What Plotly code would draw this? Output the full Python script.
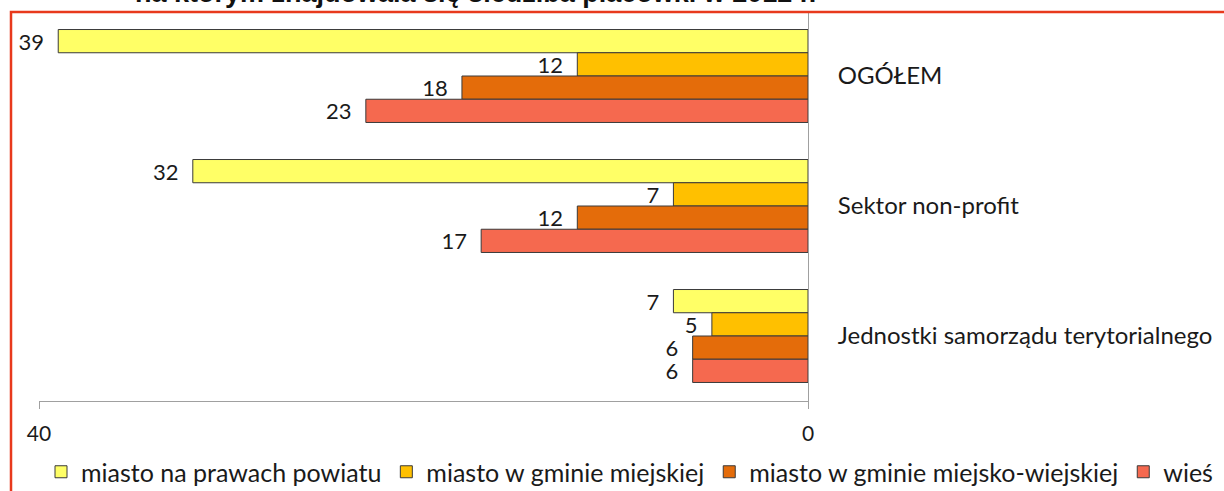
import plotly.graph_objects as go

categories = ["OGÓŁEM", "Sektor non-profit", "Jednostki samorządu terytorialnego"]
series_names = ["miasto na prawach powiatu", "miasto w gminie miejskiej",
                "miasto w gminie miejsko-wiejskiej", "wieś"]
miasto_na_prawach_powiatu = [39, 32, 7]
miasto_w_gminie_miejskiej = [12, 7, 5]
miasto_w_gminie_miejsko_wiejskiej = [18, 12, 6]
wies = [23, 17, 6]
title_text = "na którym znajdowała się siedziba placówki w 2012 r."

series_values = [miasto_na_prawach_powiatu, miasto_w_gminie_miejskiej,
                 miasto_w_gminie_miejsko_wiejskiej, wies]
colors = ["#FFFF66", "#FFC000", "#E46C0A", "#F5694F"]

W, H = 1224, 491
ml, mr, mt, mb = 39, W - 808, 11, 90
FONT = "Lato, Carlito, sans-serif"

fig = go.Figure()
for name, vals, col in zip(series_names, series_values, colors):
    fig.add_trace(go.Bar(
        y=categories, x=vals, name=name, orientation="h",
        marker=dict(color=col, line=dict(color="#3a3a3a", width=1)),
        text=vals, texttemplate="%{x}\u00a0\u00a0", textposition="outside",
        constraintext="none", cliponaxis=False,
        textfont=dict(family=FONT, size=22, color="#1a1a1a"),
    ))

# red outer frame (partially visible)
px_to_xp = lambda px: (px - ml) / (W - ml - mr)
px_to_yp = lambda py: (H - mb - py) / (H - mt - mb)
fig.add_shape(type="rect", xref="paper", yref="paper",
              x0=px_to_xp(11), x1=px_to_xp(1300), y0=px_to_yp(560), y1=px_to_yp(12),
              line=dict(color="#E8391C", width=2.5), fillcolor="rgba(0,0,0,0)", layer="above")

# title, mostly cut off at the top edge as in the reference
fig.add_annotation(text="<b>" + title_text + "</b>", xref="paper", yref="paper",
                   x=px_to_xp((130 + 820) / 2), xanchor="center",
                   y=px_to_yp(10), yanchor="bottom", showarrow=False,
                   font=dict(family="Liberation Sans, Arial, sans-serif", size=27, color="#111"))

fig.update_layout(
    width=W, height=H,
    margin=dict(l=ml, r=mr, t=mt, b=mb, autoexpand=False),
    paper_bgcolor="white", plot_bgcolor="white",
    barmode="group", bargap=0.285, bargroupgap=0,
    font=dict(family=FONT, size=22, color="#1a1a1a"),
    xaxis=dict(range=[40, 0], tickmode="array", tickvals=[40, 0], ticktext=["40", "0"],
               showline=True, linecolor="#A0A0A0", linewidth=1,
               ticks="outside", ticklen=7, tickcolor="#A0A0A0",
               showgrid=False, zeroline=False, ticklabelstandoff=7,
               tickfont=dict(size=21, color="#1a1a1a")),
    yaxis=dict(autorange="reversed", side="right", showline=True, linecolor="#A0A0A0",
               linewidth=1, ticks="", showgrid=False, zeroline=False,
               ticklabelstandoff=24, tickfont=dict(size=24, color="#1a1a1a")),
    legend=dict(orientation="h", x=px_to_xp(1218), xanchor="right",
                y=px_to_yp(472), yanchor="middle", traceorder="normal",
                font=dict(size=25, color="#1a1a1a"), bgcolor="rgba(0,0,0,0)",
                itemwidth=30),
    showlegend=True,
)

fig.write_html("out.html", config={"displayModeBar": False},
               post_script="document.body.style.margin='0';document.body.style.padding='0';")
